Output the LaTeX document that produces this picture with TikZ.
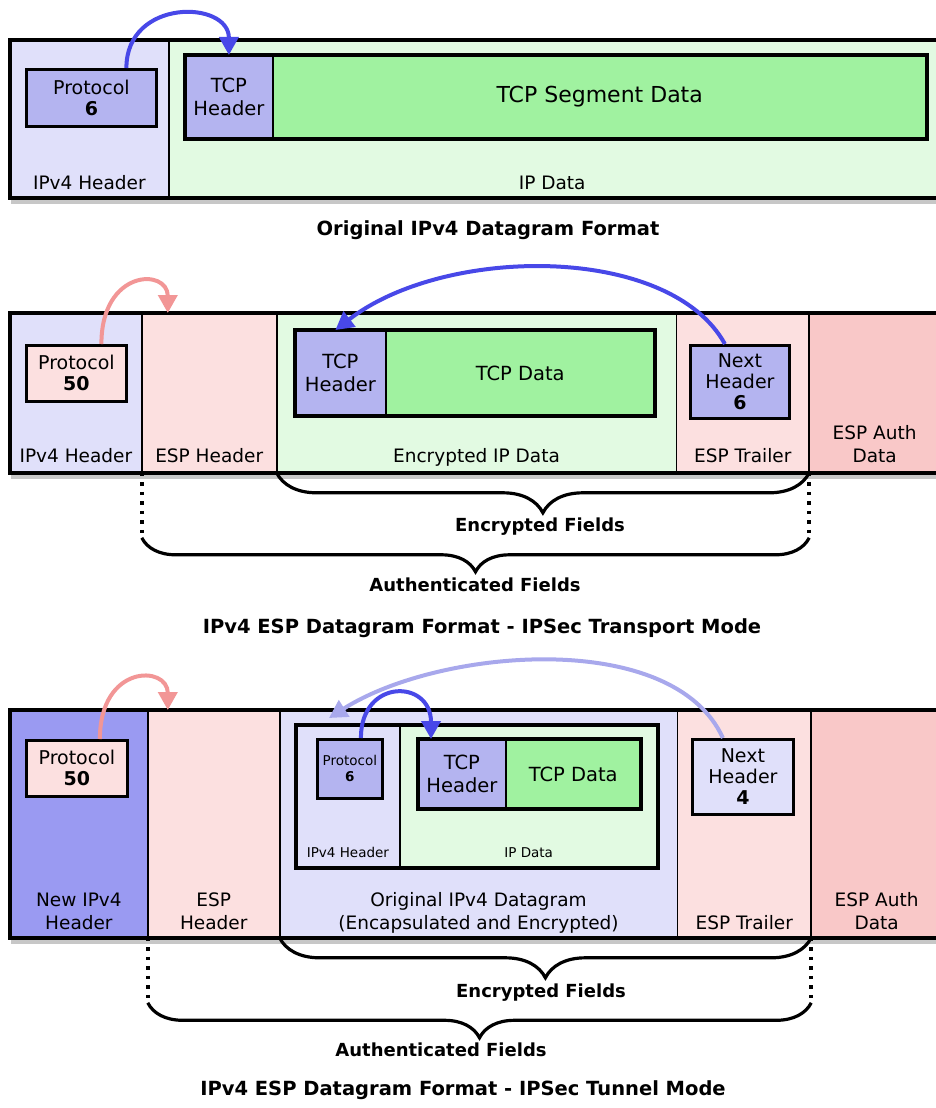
\documentclass[tikz,border=0pt]{standalone}
\usepackage{fontspec}
\setmainfont{DejaVu Sans}
\usetikzlibrary{positioning, arrows.meta, fit, decorations.pathreplacing}

\definecolor{hdrlav}{RGB}{224,224,250}
\definecolor{boxlav}{RGB}{180,180,240}
\definecolor{grnlight}{RGB}{226,250,226}
\definecolor{grnbox}{RGB}{160,242,160}
\definecolor{pinklight}{RGB}{252,224,224}
\definecolor{pinkdark}{RGB}{249,200,200}
\definecolor{newhdr}{RGB}{154,154,242}
\definecolor{arrblue}{RGB}{72,72,232}
\definecolor{arrpink}{RGB}{242,150,150}
\definecolor{arrlight}{RGB}{168,168,236}

\begin{document}
\begin{tikzpicture}[
      x=1pt, y=-1pt,
      >={Triangle[length=18pt,width=19pt]},
      field/.style={
        rectangle, draw, line width=0.8pt, anchor=north west, inner sep=0pt,
      },
      valbox/.style={
        rectangle, draw, line width=2.8pt, anchor=north west, inner sep=0pt,
        align=center, font=\fontsize{19}{21}\selectfont,
      },
      part/.style={
        rectangle, draw, line width=0.8pt, anchor=north west, inner sep=0pt,
        align=center, font=\fontsize{19.5}{23}\selectfont,
      },
      frame/.style={rectangle, draw, line width=4pt, inner sep=0pt},
      lbl/.style={
        font=\fontsize{18.5}{23}\selectfont, inner sep=0pt, align=center,
        anchor=south, text depth=0pt,
      },
      small/.style={font=\fontsize{13.5}{16}\selectfont},
      ttl/.style={font=\bfseries\fontsize{19.5}{23}\selectfont},
      brlbl/.style={font=\bfseries\fontsize{18}{22}\selectfont},
      link/.style={->, line width=4pt},
      brc/.style={decorate, decoration={brace, mirror, amplitude=#1}, line width=3.2pt},
      guide/.style={line width=3.5pt, dash pattern=on 3.5pt off 6pt},
      shade/.style={fill=black!22},
    ]
      % layers
      \pgfdeclarelayer{background}
      \pgfsetlayers{background,main}

      \useasboundingbox (0,0) rectangle (935,1108);

      % original datagram
      \node[field, fill=hdrlav, minimum width=158pt, minimum height=157pt] (hdr1) at (10,40) {};
      \node[field, fill=grnlight, minimum width=790pt, minimum height=157pt, right=0pt of hdr1] (data1) {};
      \node[frame, fit=(hdr1) (data1)] (pkt1) {};
      \node[lbl] (hdr1l) at ([yshift=8pt]hdr1.south) {IPv4 Header};
      \node[lbl] (data1l) at ([yshift=8pt,xshift=-12pt]data1.south) {IP Data};

      \node[valbox, fill=boxlav, minimum width=130pt, minimum height=57pt] (p6) at (25,68) {Protocol\\\textbf{6}};
      \node[part, fill=boxlav, minimum width=87pt, minimum height=83pt] (tcph1) at (185,55) {TCP\\Header};
      \node[part, fill=grnbox, minimum width=653pt, minimum height=83pt, right=0pt of tcph1,
            font=\fontsize{22}{24}\selectfont] (tcpd1) {TCP Segment Data};
      \node[frame, fit=(tcph1) (tcpd1)] (tcp1) {};

      \draw[link, arrblue] ([xshift=35pt]p6.north) .. controls +(0,-70) and +(0,-55) .. (tcph1.north);

      \node[ttl] (ttl1) at (488,230) {Original IPv4 Datagram Format};

      % transport mode
      \node[field, fill=hdrlav, minimum width=131pt, minimum height=159pt] (hdr2) at (10,313) {};
      \node[field, fill=pinklight, minimum width=134pt, minimum height=159pt, right=0pt of hdr2] (esph2) {};
      \node[field, fill=grnlight, minimum width=399pt, minimum height=159pt, right=0pt of esph2] (enc2) {};
      \node[field, fill=pinklight, minimum width=132pt, minimum height=159pt, right=0pt of enc2] (trl2) {};
      \node[field, fill=pinkdark, minimum width=140pt, minimum height=159pt, right=0pt of trl2] (auth2) {};
      \node[frame, fit=(hdr2) (auth2)] (pkt2) {};

      \node[lbl] (hdr2l) at ([yshift=10pt]hdr2.south) {IPv4 Header};
      \node[lbl] (esph2l) at ([yshift=10pt]esph2.south) {ESP Header};
      \node[lbl] (enc2l) at ([yshift=10pt]enc2.south) {Encrypted IP Data};
      \node[lbl] (trl2l) at ([yshift=10pt]trl2.south) {ESP Trailer};
      \node[lbl] (auth2l) at ([yshift=10pt,xshift=-5pt]auth2.south) {ESP Auth\\Data};

      \node[valbox, fill=pinklight, minimum width=100pt, minimum height=56pt] (p50a) at (25,344) {Protocol\\\textbf{50}};
      \node[part, fill=boxlav, minimum width=90pt, minimum height=85pt] (tcph2) at (295,330) {TCP\\Header};
      \node[part, fill=grnbox, minimum width=268pt, minimum height=85pt, right=0pt of tcph2] (tcpd2) {TCP Data};
      \node[frame, fit=(tcph2) (tcpd2)] (tcp2) {};
      \node[valbox, fill=boxlav, minimum width=99pt, minimum height=73pt] (nh6) at (689,344) {Next\\Header\\\textbf{6}};

      \draw[link, arrpink] ([xshift=25pt]p50a.north) .. controls +(0,-75) and +(0,-45) .. ([xshift=26pt]esph2.north west);
      \draw[link, arrblue] ([xshift=-15pt]nh6.north) .. controls +(-55,-100) and +(110,-85) .. ([xshift=-5pt]tcph2.north);

      % fields covered
      \coordinate (al2) at ([yshift=-65pt]esph2.south west);
      \coordinate (ar2) at ([yshift=-65pt]trl2.south east);
      \draw[guide] (esph2.south west) -- (al2);
      \draw[guide] (trl2.south east) -- (ar2);
      \draw[brc=40pt] (enc2.south west) -- (trl2.south east);
      \draw[brc=34pt] (al2) -- (ar2);
      \node[brlbl] (enc2f) at (540,527) {Encrypted Fields};
      \node[brlbl] (auth2f) at (475,585) {Authenticated Fields};

      \node[ttl] (ttl2) at (482,628) {IPv4 ESP Datagram Format - IPSec Transport Mode};

      % tunnel mode
      \node[field, fill=newhdr, minimum width=137pt, minimum height=227pt] (new3) at (10,710) {};
      \node[field, fill=pinklight, minimum width=131pt, minimum height=227pt, right=0pt of new3] (esph3) {};
      \node[field, fill=hdrlav, minimum width=397pt, minimum height=227pt, right=0pt of esph3] (orig3) {};
      \node[field, fill=pinklight, minimum width=133pt, minimum height=227pt, right=0pt of orig3] (trl3) {};
      \node[field, fill=pinkdark, minimum width=138pt, minimum height=227pt, right=0pt of trl3] (auth3) {};
      \node[frame, fit=(new3) (auth3)] (pkt3) {};

      \node[lbl] (new3l) at ([yshift=8pt]new3.south) {New IPv4\\Header};
      \node[lbl] (esph3l) at ([yshift=8pt]esph3.south) {ESP\\Header};
      \node[lbl] (orig3l) at ([yshift=8pt]orig3.south) {Original IPv4 Datagram\\(Encapsulated and Encrypted)};
      \node[lbl] (trl3l) at ([yshift=8pt]trl3.south) {ESP Trailer};
      \node[lbl] (auth3l) at ([yshift=8pt,xshift=-4pt]auth3.south) {ESP Auth\\Data};

      \node[valbox, fill=pinklight, minimum width=101pt, minimum height=56pt] (p50b) at (25,739) {Protocol\\\textbf{50}};

      % encapsulated datagram
      \node[part, fill=hdrlav, minimum width=103pt, minimum height=142pt] (ihdr3) at (296,725) {};
      \node[part, fill=grnlight, minimum width=257pt, minimum height=142pt, right=0pt of ihdr3] (idata3) {};
      \node[frame, fit=(ihdr3) (idata3)] (inner3) {};
      \node[lbl, small] (ihdr3l) at ([yshift=10pt]ihdr3.south) {IPv4 Header};
      \node[lbl, small] (idata3l) at ([yshift=10pt]idata3.south) {IP Data};
      \node[valbox, small, fill=boxlav, minimum width=65pt, minimum height=59pt] (ip6) at (316,738) {Protocol\\\textbf{6}};
      \node[part, fill=boxlav, minimum width=87pt, minimum height=69pt] (tcph3) at (418,739) {TCP\\Header};
      \node[part, fill=grnbox, minimum width=134pt, minimum height=69pt, right=0pt of tcph3] (tcpd3) {TCP Data};
      \node[frame, fit=(tcph3) (tcpd3)] (tcp3) {};

      \node[valbox, fill=hdrlav, minimum width=101pt, minimum height=75pt] (nh4) at (691,738) {Next\\Header\\\textbf{4}};

      \draw[link, arrpink] ([xshift=23pt]p50b.north) .. controls +(0,-75) and +(0,-45) .. ([xshift=20pt]esph3.north west);
      \draw[link, arrlight] ([xshift=-20pt]nh4.north) .. controls +(-50,-110) and +(110,-70) .. ([xshift=35pt,yshift=5pt]inner3.north west);
      \draw[link, arrblue] ([xshift=11pt]ip6.north) .. controls +(0,-60) and +(0,-60) .. ([xshift=13pt]tcph3.north west);

      \coordinate (al3) at ([yshift=-65pt]esph3.south west);
      \coordinate (ar3) at ([yshift=-65pt]trl3.south east);
      \draw[guide] (esph3.south west) -- (al3);
      \draw[guide] (trl3.south east) -- (ar3);
      \draw[brc=40pt] (orig3.south west) -- (trl3.south east);
      \draw[brc=35pt] (al3) -- (ar3);
      \node[brlbl] (enc3f) at (541,993) {Encrypted Fields};
      \node[brlbl] (auth3f) at (441,1050) {Authenticated Fields};

      \node[ttl] (ttl3) at (463,1090) {IPv4 ESP Datagram Format - IPSec Tunnel Mode};

      % shadows behind the frames
      \begin{pgfonlayer}{background}
        \fill[shade] ([xshift=3pt,yshift=-4pt]pkt1.north west) rectangle ([xshift=3pt,yshift=-4pt]pkt1.south east);
        \fill[shade] ([xshift=3pt,yshift=-4pt]pkt2.north west) rectangle ([xshift=3pt,yshift=-4pt]pkt2.south east);
        \fill[shade] ([xshift=3pt,yshift=-4pt]pkt3.north west) rectangle ([xshift=3pt,yshift=-4pt]pkt3.south east);
        \fill[shade] ([xshift=3pt,yshift=-4pt]inner3.north west) rectangle ([xshift=3pt,yshift=-4pt]inner3.south east);
      \end{pgfonlayer}
    \end{tikzpicture}
\end{document}
